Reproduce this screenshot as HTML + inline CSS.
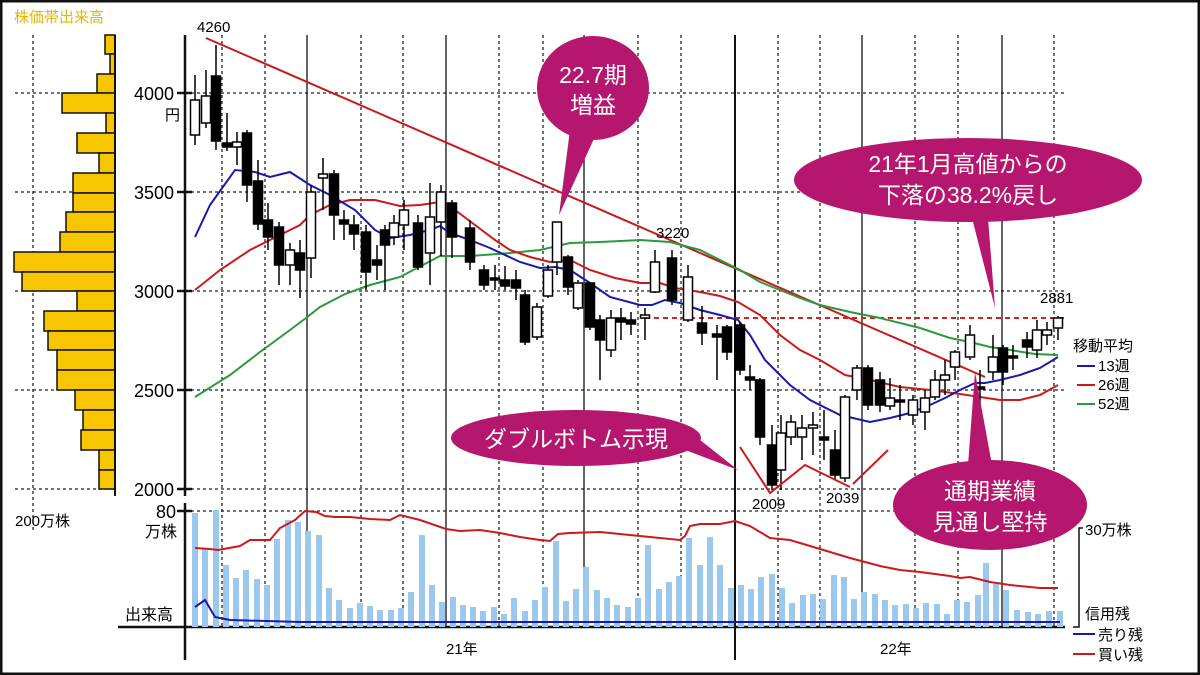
<!DOCTYPE html>
<html><head><meta charset="utf-8"><style>
html,body{margin:0;padding:0;background:#fff}
svg{display:block}
text{font-family:"Liberation Sans","Noto Sans CJK JP",sans-serif}
</style></head><body>
<svg width="1200" height="675" viewBox="0 0 1200 675" xmlns="http://www.w3.org/2000/svg">
<rect x="1" y="1" width="1198" height="673" fill="#fff" stroke="#111" stroke-width="3"/>
<text x="14" y="22" font-size="15" fill="#e0b800">株価帯出来高</text>
<!-- left panel grid -->
<g stroke="#222" stroke-width="1.3" stroke-dasharray="3,3">
<line x1="33" y1="35" x2="33" y2="530"/>
<line x1="15" y1="93" x2="115" y2="93"/><line x1="15" y1="192" x2="115" y2="192"/>
<line x1="15" y1="291" x2="115" y2="291"/><line x1="15" y1="390" x2="115" y2="390"/>
<line x1="15" y1="489" x2="115" y2="489"/>
</g>
<g fill="#f7c600" stroke="#111" stroke-width="1.5">
<rect x="105" y="35" width="10" height="19"/><rect x="110" y="54" width="5" height="20"/>
<rect x="97" y="74" width="18" height="19"/><rect x="62" y="93" width="53" height="20"/>
<rect x="106" y="113" width="9" height="20"/><rect x="77" y="133" width="38" height="20"/>
<rect x="99" y="153" width="16" height="20"/><rect x="73" y="173" width="42" height="20"/>
<rect x="73" y="193" width="42" height="19"/><rect x="66" y="212" width="49" height="20"/>
<rect x="60" y="232" width="55" height="20"/><rect x="14" y="252" width="101" height="20"/>
<rect x="22" y="272" width="93" height="19"/><rect x="77" y="291" width="38" height="20"/>
<rect x="44" y="311" width="71" height="20"/><rect x="48" y="331" width="67" height="19"/>
<rect x="57" y="350" width="58" height="20"/><rect x="57" y="370" width="58" height="20"/>
<rect x="75" y="390" width="40" height="20"/><rect x="83" y="410" width="32" height="20"/>
<rect x="81" y="430" width="34" height="20"/><rect x="99" y="450" width="16" height="20"/>
<rect x="99" y="470" width="16" height="19"/>
</g>
<line x1="115" y1="35" x2="115" y2="496" stroke="#111" stroke-width="2"/>
<text x="15" y="526" font-size="15">200万株</text>

<!-- main grid -->
<g stroke="#222" stroke-width="1.3" stroke-dasharray="3,3">
<line x1="185" y1="93" x2="1065" y2="93"/><line x1="185" y1="192" x2="1065" y2="192"/>
<line x1="185" y1="291" x2="1065" y2="291"/><line x1="185" y1="390" x2="1065" y2="390"/>
<line x1="185" y1="489" x2="1065" y2="489"/><line x1="185" y1="511" x2="1065" y2="511"/>
<line x1="222" y1="35" x2="222" y2="627"/><line x1="265" y1="35" x2="265" y2="627"/>
<line x1="361" y1="35" x2="361" y2="627"/><line x1="403" y1="35" x2="403" y2="627"/>
<line x1="499" y1="35" x2="499" y2="627"/><line x1="543" y1="35" x2="543" y2="627"/>
<line x1="638" y1="35" x2="638" y2="627"/><line x1="681" y1="35" x2="681" y2="627"/>
<line x1="778" y1="35" x2="778" y2="627"/><line x1="820" y1="35" x2="820" y2="627"/>
<line x1="915" y1="35" x2="915" y2="627"/><line x1="958" y1="35" x2="958" y2="627"/>
<line x1="1054" y1="35" x2="1054" y2="627"/>
</g>
<g stroke="#111" stroke-width="1.3">
<line x1="307" y1="35" x2="307" y2="627"/><line x1="446" y1="35" x2="446" y2="627"/>
<line x1="584" y1="35" x2="584" y2="627"/><line x1="862" y1="35" x2="862" y2="627"/>
<line x1="1002" y1="35" x2="1002" y2="627"/>
<line x1="735" y1="35" x2="735" y2="660" stroke-width="2"/>
</g>
<!-- axes -->
<g stroke="#111" stroke-width="2.5">
<line x1="185" y1="35" x2="185" y2="496"/><line x1="185" y1="503" x2="185" y2="660"/>
<line x1="118" y1="627" x2="1065" y2="627"/>
<line x1="177" y1="93" x2="192" y2="93"/><line x1="177" y1="192" x2="192" y2="192"/>
<line x1="177" y1="291" x2="192" y2="291"/><line x1="177" y1="390" x2="192" y2="390"/>
<line x1="177" y1="489" x2="192" y2="489"/><line x1="177" y1="511" x2="192" y2="511"/>
</g>
<g font-size="18" text-anchor="end">
<text x="174" y="100">4000</text><text x="174" y="199">3500</text>
<text x="174" y="298">3000</text><text x="174" y="397">2500</text>
<text x="174" y="496">2000</text><text x="176" y="518">80</text>
</g>
<text x="165" y="120" font-size="15">円</text>
<text x="145" y="537" font-size="16">万株</text>
<text x="125" y="620" font-size="16">出来高</text>

<!-- volume bars -->
<g fill="#9cc8ee">
<rect x="192" y="513" width="6" height="114"/><rect x="202" y="548" width="6" height="79"/><rect x="213" y="510" width="6" height="117"/><rect x="223" y="565" width="6" height="62"/><rect x="233" y="578" width="6" height="49"/><rect x="243" y="570" width="6" height="57"/><rect x="254" y="579" width="6" height="48"/><rect x="264" y="585" width="6" height="42"/><rect x="274" y="539" width="6" height="88"/><rect x="285" y="520" width="6" height="107"/><rect x="295" y="522" width="6" height="105"/><rect x="305" y="531" width="6" height="96"/><rect x="316" y="535" width="6" height="92"/><rect x="326" y="588" width="6" height="39"/><rect x="336" y="600" width="6" height="27"/><rect x="347" y="608" width="6" height="19"/><rect x="357" y="603" width="6" height="24"/><rect x="367" y="606" width="6" height="21"/><rect x="377" y="610" width="6" height="17"/><rect x="388" y="610" width="6" height="17"/><rect x="398" y="608" width="6" height="19"/><rect x="408" y="592" width="6" height="35"/><rect x="419" y="535" width="6" height="92"/><rect x="429" y="585" width="6" height="42"/><rect x="439" y="602" width="6" height="25"/><rect x="450" y="597" width="6" height="30"/><rect x="460" y="605" width="6" height="22"/><rect x="470" y="607" width="6" height="20"/><rect x="480" y="611" width="6" height="16"/><rect x="491" y="607" width="6" height="20"/><rect x="501" y="614" width="6" height="13"/><rect x="511" y="598" width="6" height="29"/><rect x="522" y="611" width="6" height="16"/><rect x="532" y="600" width="6" height="27"/><rect x="542" y="587" width="6" height="40"/><rect x="553" y="541" width="6" height="86"/><rect x="563" y="601" width="6" height="26"/><rect x="573" y="589" width="6" height="38"/><rect x="583" y="567" width="6" height="60"/><rect x="594" y="590" width="6" height="37"/><rect x="604" y="598" width="6" height="29"/><rect x="614" y="605" width="6" height="22"/><rect x="625" y="607" width="6" height="20"/><rect x="635" y="598" width="6" height="29"/><rect x="645" y="545" width="6" height="82"/><rect x="656" y="589" width="6" height="38"/><rect x="666" y="582" width="6" height="45"/><rect x="676" y="576" width="6" height="51"/><rect x="686" y="538" width="6" height="89"/><rect x="697" y="565" width="6" height="62"/><rect x="707" y="537" width="6" height="90"/><rect x="717" y="565" width="6" height="62"/><rect x="728" y="588" width="6" height="39"/><rect x="738" y="585" width="6" height="42"/><rect x="748" y="589" width="6" height="38"/><rect x="758" y="577" width="6" height="50"/><rect x="769" y="574" width="6" height="53"/><rect x="779" y="588" width="6" height="39"/><rect x="789" y="603" width="6" height="24"/><rect x="800" y="595" width="6" height="32"/><rect x="810" y="594" width="6" height="33"/><rect x="820" y="599" width="6" height="28"/><rect x="831" y="575" width="6" height="52"/><rect x="841" y="577" width="6" height="50"/><rect x="851" y="599" width="6" height="28"/><rect x="861" y="592" width="6" height="35"/><rect x="872" y="594" width="6" height="33"/><rect x="882" y="600" width="6" height="27"/><rect x="892" y="605" width="6" height="22"/><rect x="903" y="604" width="6" height="23"/><rect x="913" y="608" width="6" height="19"/><rect x="923" y="603" width="6" height="24"/><rect x="934" y="604" width="6" height="23"/><rect x="944" y="614" width="6" height="13"/><rect x="954" y="600" width="6" height="27"/><rect x="964" y="602" width="6" height="25"/><rect x="975" y="595" width="6" height="32"/><rect x="983" y="563" width="6" height="64"/><rect x="993" y="584" width="6" height="43"/><rect x="1003" y="590" width="6" height="37"/><rect x="1014" y="610" width="6" height="17"/><rect x="1025" y="612" width="6" height="15"/><rect x="1035" y="614" width="6" height="13"/><rect x="1046" y="611" width="6" height="16"/><rect x="1057" y="611" width="6" height="16"/>
</g>
<polyline fill="none" stroke="#cc1a1a" stroke-width="2" points="195,548 210,549 218,550 240,546 250,540 270,540 280,528 295,520 305,511 316,512 325,516 335,517 350,517 370,519 390,520 400,515 420,520 446,529 460,531 480,530 500,533 520,537 540,540 550,541 558,534 570,533 600,532 620,534 650,537 680,540 685,536 690,526 700,524 720,524 735,521 750,526 770,538 790,540 810,546 830,552 850,558 880,566 900,570 920,572 950,576 960,578 970,577 990,582 1010,585 1040,588 1058,588"/>
<polyline fill="none" stroke="#1a1aa8" stroke-width="2" points="195,607 205,600 215,617 230,620 300,622 1060,622"/>

<!-- trendline -->
<line x1="206" y1="38" x2="985" y2="377" stroke="#c81a1a" stroke-width="2"/>
<line x1="645" y1="318" x2="1068" y2="318" stroke="#d42020" stroke-width="2" stroke-dasharray="5,4"/>
<!-- MAs -->
<polyline fill="none" stroke="#2a9a3a" stroke-width="2" points="195,397 230,375 260,352 290,330 306,318 320,307 345,294 370,285 400,277 440,256 470,256 510,253 540,250 570,243 600,242 640,240 670,242 700,250 720,260 740,270 760,282 780,290 800,298 820,305 850,312 880,318 920,328 950,338 970,342 990,347 1010,350 1035,354 1058,355"/>
<polyline fill="none" stroke="#cc1a1a" stroke-width="2" points="195,290 220,270 250,250 280,235 300,225 310,215 330,205 350,200 375,200 400,206 420,205 440,202 455,210 475,225 495,240 510,250 530,257 550,262 570,260 590,270 615,278 640,283 660,283 675,288 700,292 720,296 738,302 760,315 780,335 800,350 820,360 845,375 870,380 900,387 930,390 960,394 980,397 1000,400 1020,400 1040,395 1058,385"/>
<polyline fill="none" stroke="#1a1aa8" stroke-width="2" points="195,237 210,205 235,170 255,172 270,177 290,172 310,185 330,195 355,210 375,230 390,238 410,235 430,230 440,226 450,233 470,240 490,248 520,262 540,268 555,267 570,270 590,283 610,297 640,305 652,305 665,300 680,303 700,310 720,315 738,320 750,335 765,360 790,385 810,400 840,415 870,422 890,418 910,413 930,405 945,398 960,390 975,383 985,383 1000,380 1020,375 1040,368 1058,357"/>

<!-- candles -->
<g stroke="#000" stroke-width="1.5">
<line x1="195" y1="75" x2="195" y2="145"/><rect x="190.5" y="100" width="9" height="35" fill="#fff"/>
<line x1="206" y1="70" x2="206" y2="128"/><rect x="201.5" y="96" width="9" height="27" fill="#fff"/>
<line x1="216" y1="45" x2="216" y2="150"/><rect x="211.5" y="76" width="9" height="65" fill="#000"/>
<line x1="227" y1="113" x2="227" y2="151"/><rect x="222.5" y="143" width="9" height="4" fill="#000"/>
<line x1="237" y1="132" x2="237" y2="165"/><rect x="232.5" y="142" width="9" height="5" fill="#fff"/>
<line x1="247" y1="130" x2="247" y2="202"/><rect x="242.5" y="133" width="9" height="52" fill="#000"/>
<line x1="258" y1="160" x2="258" y2="230"/><rect x="253.5" y="181" width="9" height="43" fill="#000"/>
<line x1="268" y1="203" x2="268" y2="250"/><rect x="263.5" y="220" width="9" height="17" fill="#000"/>
<line x1="279" y1="222" x2="279" y2="285"/><rect x="274.5" y="227" width="9" height="38" fill="#000"/>
<line x1="290" y1="243" x2="290" y2="285"/><rect x="285.5" y="250" width="9" height="15" fill="#fff"/>
<line x1="300" y1="240" x2="300" y2="298"/><rect x="295.5" y="253" width="9" height="17" fill="#000"/>
<line x1="311" y1="185" x2="311" y2="278"/><rect x="306.5" y="192" width="9" height="66" fill="#fff"/>
<line x1="323" y1="158" x2="323" y2="210"/><rect x="318.5" y="174" width="9" height="4" fill="#fff"/>
<line x1="334" y1="170" x2="334" y2="240"/><rect x="329.5" y="174" width="9" height="41" fill="#000"/>
<line x1="344" y1="210" x2="344" y2="240"/><rect x="339.5" y="220" width="9" height="4" fill="#000"/>
<line x1="354" y1="215" x2="354" y2="250"/><rect x="349.5" y="225" width="9" height="9" fill="#000"/>
<line x1="366" y1="225" x2="366" y2="290"/><rect x="361.5" y="232" width="9" height="40" fill="#000"/>
<line x1="377" y1="245" x2="377" y2="280"/><rect x="372.5" y="260" width="9" height="5" fill="#000"/>
<line x1="385" y1="225" x2="385" y2="290"/><rect x="380.5" y="230" width="9" height="15" fill="#000"/>
<line x1="394" y1="215" x2="394" y2="245"/><rect x="389.5" y="223" width="9" height="14" fill="#fff"/>
<line x1="404" y1="200" x2="404" y2="250"/><rect x="399.5" y="210" width="9" height="15" fill="#fff"/>
<line x1="418" y1="215" x2="418" y2="270"/><rect x="413.5" y="223" width="9" height="44" fill="#000"/>
<line x1="430" y1="183" x2="430" y2="285"/><rect x="425.5" y="217" width="9" height="36" fill="#fff"/>
<line x1="441" y1="185" x2="441" y2="256"/><rect x="436.5" y="192" width="9" height="30" fill="#fff"/>
<line x1="452" y1="200" x2="452" y2="258"/><rect x="447.5" y="203" width="9" height="34" fill="#000"/>
<line x1="470" y1="220" x2="470" y2="270"/><rect x="465.5" y="228" width="9" height="34" fill="#000"/>
<line x1="484" y1="265" x2="484" y2="290"/><rect x="479.5" y="270" width="9" height="15" fill="#000"/>
<line x1="495" y1="265" x2="495" y2="290"/><rect x="490.5" y="278" width="9" height="2" fill="#000"/>
<line x1="505" y1="266" x2="505" y2="290"/><rect x="500.5" y="280" width="9" height="6" fill="#000"/>
<line x1="516" y1="270" x2="516" y2="300"/><rect x="511.5" y="280" width="9" height="8" fill="#000"/>
<line x1="525" y1="290" x2="525" y2="345"/><rect x="520.5" y="295" width="9" height="47" fill="#000"/>
<line x1="537" y1="303" x2="537" y2="340"/><rect x="532.5" y="307" width="9" height="30" fill="#fff"/>
<line x1="548" y1="265" x2="548" y2="298"/><rect x="543.5" y="270" width="9" height="26" fill="#fff"/>
<line x1="557" y1="222" x2="557" y2="275"/><rect x="552.5" y="222" width="9" height="40" fill="#fff"/>
<line x1="568" y1="255" x2="568" y2="295"/><rect x="563.5" y="257" width="9" height="30" fill="#000"/>
<line x1="578" y1="280" x2="578" y2="310"/><rect x="573.5" y="283" width="9" height="25" fill="#fff"/>
<line x1="590" y1="283" x2="590" y2="330"/><rect x="585.5" y="283" width="9" height="44" fill="#000"/>
<line x1="600" y1="315" x2="600" y2="380"/><rect x="595.5" y="320" width="9" height="20" fill="#000"/>
<line x1="611" y1="310" x2="611" y2="357"/><rect x="606.5" y="318" width="9" height="32" fill="#fff"/>
<line x1="621" y1="308" x2="621" y2="340"/><rect x="616.5" y="318" width="9" height="4" fill="#000"/>
<line x1="631" y1="312" x2="631" y2="335"/><rect x="626.5" y="320" width="9" height="4" fill="#000"/>
<line x1="645" y1="308" x2="645" y2="340"/><rect x="640.5" y="315" width="9" height="3" fill="#fff"/>
<line x1="655" y1="250" x2="655" y2="293"/><rect x="650.5" y="262" width="9" height="30" fill="#fff"/>
<line x1="672" y1="250" x2="672" y2="305"/><rect x="667.5" y="258" width="9" height="42" fill="#000"/>
<line x1="688" y1="265" x2="688" y2="322"/><rect x="683.5" y="277" width="9" height="43" fill="#fff"/>
<line x1="702" y1="306" x2="702" y2="345"/><rect x="697.5" y="323" width="9" height="10" fill="#000"/>
<line x1="717" y1="325" x2="717" y2="380"/><rect x="712.5" y="334" width="9" height="3" fill="#000"/>
<line x1="727" y1="325" x2="727" y2="360"/><rect x="722.5" y="327" width="9" height="25" fill="#000"/>
<line x1="740" y1="322" x2="740" y2="375"/><rect x="735.5" y="325" width="9" height="45" fill="#000"/>
<line x1="750" y1="365" x2="750" y2="390"/><rect x="745.5" y="377" width="9" height="3" fill="#000"/>
<line x1="760" y1="378" x2="760" y2="445"/><rect x="755.5" y="380" width="9" height="57" fill="#000"/>
<line x1="772" y1="425" x2="772" y2="490"/><rect x="767.5" y="445" width="9" height="40" fill="#000"/>
<line x1="781" y1="415" x2="781" y2="490"/><rect x="776.5" y="433" width="9" height="37" fill="#fff"/>
<line x1="791" y1="415" x2="791" y2="445"/><rect x="786.5" y="422" width="9" height="15" fill="#fff"/>
<line x1="802" y1="415" x2="802" y2="460"/><rect x="797.5" y="428" width="9" height="9" fill="#fff"/>
<line x1="813" y1="412" x2="813" y2="455"/><rect x="808.5" y="425" width="9" height="3" fill="#fff"/>
<line x1="824" y1="410" x2="824" y2="460"/><rect x="819.5" y="437" width="9" height="3" fill="#000"/>
<line x1="835" y1="430" x2="835" y2="480"/><rect x="830.5" y="450" width="9" height="25" fill="#000"/>
<line x1="845" y1="395" x2="845" y2="482"/><rect x="840.5" y="397" width="9" height="81" fill="#fff"/>
<line x1="857" y1="365" x2="857" y2="400"/><rect x="852.5" y="368" width="9" height="22" fill="#fff"/>
<line x1="868" y1="365" x2="868" y2="410"/><rect x="863.5" y="368" width="9" height="37" fill="#000"/>
<line x1="880" y1="372" x2="880" y2="412"/><rect x="875.5" y="380" width="9" height="25" fill="#000"/>
<line x1="890" y1="378" x2="890" y2="410"/><rect x="885.5" y="398" width="9" height="8" fill="#fff"/>
<line x1="900" y1="385" x2="900" y2="420"/><rect x="895.5" y="400" width="9" height="2" fill="#000"/>
<line x1="913" y1="395" x2="913" y2="425"/><rect x="908.5" y="400" width="9" height="15" fill="#fff"/>
<line x1="925" y1="390" x2="925" y2="430"/><rect x="920.5" y="398" width="9" height="14" fill="#fff"/>
<line x1="935" y1="370" x2="935" y2="400"/><rect x="930.5" y="380" width="9" height="17" fill="#fff"/>
<line x1="945" y1="360" x2="945" y2="395"/><rect x="940.5" y="375" width="9" height="5" fill="#fff"/>
<line x1="955" y1="350" x2="955" y2="380"/><rect x="950.5" y="352" width="9" height="15" fill="#fff"/>
<line x1="970" y1="325" x2="970" y2="360"/><rect x="965.5" y="335" width="9" height="22" fill="#fff"/>
<line x1="980" y1="370" x2="980" y2="410"/><rect x="975.5" y="387" width="9" height="2" fill="#000"/>
<line x1="993" y1="335" x2="993" y2="380"/><rect x="988.5" y="357" width="9" height="15" fill="#fff"/>
<line x1="1003" y1="345" x2="1003" y2="385"/><rect x="998.5" y="348" width="9" height="24" fill="#000"/>
<line x1="1013" y1="345" x2="1013" y2="370"/><rect x="1008.5" y="356" width="9" height="2" fill="#000"/>
<line x1="1027" y1="332" x2="1027" y2="358"/><rect x="1022.5" y="340" width="9" height="7" fill="#000"/>
<line x1="1037" y1="320" x2="1037" y2="358"/><rect x="1032.5" y="330" width="9" height="20" fill="#fff"/>
<line x1="1047" y1="322" x2="1047" y2="345"/><rect x="1042.5" y="330" width="9" height="5" fill="#fff"/>
<line x1="1058" y1="316" x2="1058" y2="340"/><rect x="1053.5" y="318" width="9" height="10" fill="#fff"/>
</g>

<!-- double bottom lines -->
<polyline fill="none" stroke="#cc1a1a" stroke-width="2" points="740,447 770,493 805,465 850,487"/>
<line x1="853" y1="484" x2="888" y2="450" stroke="#cc1a1a" stroke-width="2"/>

<!-- value labels -->
<g font-size="15">
<text x="197" y="32">4260</text><text x="656" y="238">3220</text>
<text x="752" y="509">2009</text><text x="826" y="503">2039</text>
<text x="1040" y="303">2881</text>
</g>

<!-- callouts -->
<g fill="#b5176f">
<ellipse cx="593" cy="88" rx="56" ry="52"/><polygon points="570,130 598,130 559,215"/>
<ellipse cx="968" cy="180" rx="174" ry="42"/><polygon points="972,218 988,218 995,308"/>
<ellipse cx="576" cy="438" rx="125" ry="28"/><polygon points="680,448 690,432 738,470"/>
<ellipse cx="990" cy="505" rx="97" ry="45"/><polygon points="968,465 992,465 975,372"/>
</g>
<g fill="#fff" font-size="23" text-anchor="middle">
<text x="593" y="83">22.7期</text><text x="593" y="113">増益</text>
<text x="968" y="172">21年1月高値からの</text><text x="968" y="203">下落の38.2%戻し</text>
<text x="576" y="447">ダブルボトム示現</text>
<text x="990" y="499">通期業績</text><text x="990" y="530">見通し堅持</text>
</g>

<!-- legend -->
<g font-size="15">
<text x="1073" y="351">移動平均</text>
<text x="1098" y="371">13週</text><text x="1098" y="390">26週</text><text x="1098" y="409">52週</text>
<text x="1085" y="535">30万株</text>
<text x="1085" y="619">信用残</text>
<text x="1098" y="640">売り残</text><text x="1098" y="660">買い残</text>
<text x="446" y="654">21年</text><text x="880" y="654">22年</text>
</g>
<g stroke-width="2">
<line x1="1077" y1="366" x2="1095" y2="366" stroke="#1a1aa8"/>
<line x1="1077" y1="385" x2="1095" y2="385" stroke="#cc1a1a"/>
<line x1="1077" y1="404" x2="1095" y2="404" stroke="#2a9a3a"/>
<line x1="1073" y1="634" x2="1095" y2="634" stroke="#1a1aa8"/>
<line x1="1073" y1="654" x2="1095" y2="654" stroke="#cc1a1a"/>
<polyline fill="none" stroke="#111" stroke-width="1.5" points="1083,528 1079,528 1079,627 1073,627"/>
</g>
</svg>
</body></html>
